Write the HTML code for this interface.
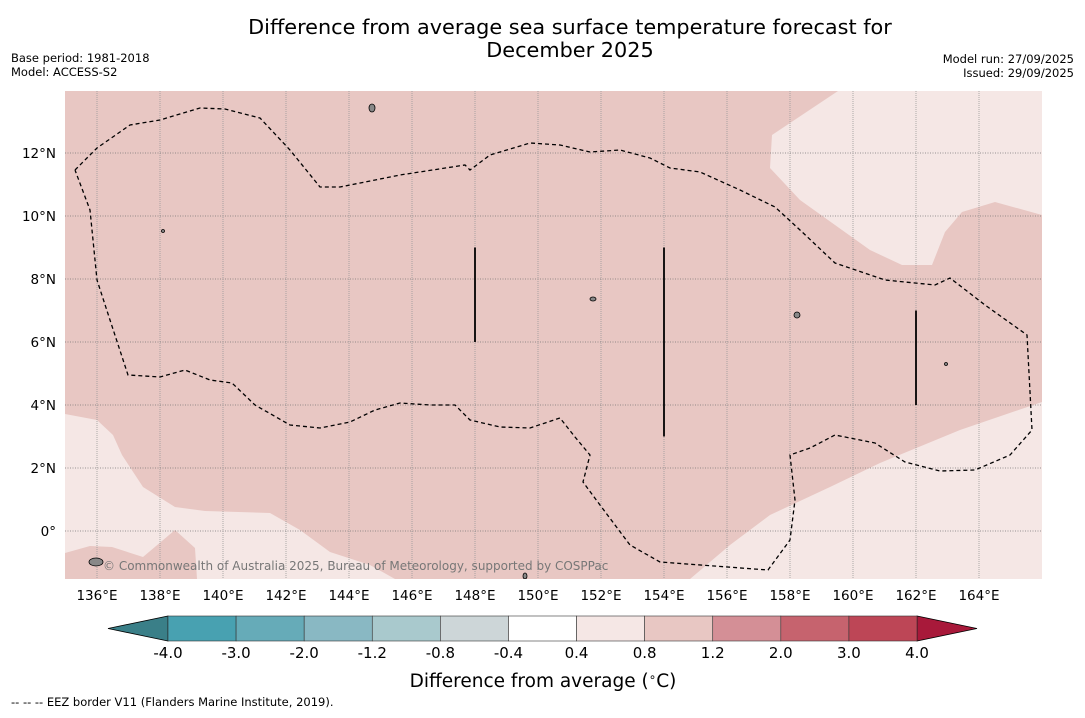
<!DOCTYPE html>
<html><head><meta charset="utf-8"><style>
body{margin:0;background:#fff;font-family:"Liberation Sans","DejaVu Sans",sans-serif;}
svg text{font-family:"DejaVu Sans","Liberation Sans",sans-serif;}
</style></head><body>
<svg id="c" width="1085" height="713" xmlns="http://www.w3.org/2000/svg">
<text x="570" y="34" font-size="20.8" text-anchor="middle">Difference from average sea surface temperature forecast for</text>
<text x="570" y="57" font-size="20.8" text-anchor="middle">December 2025</text>
<text x="11" y="62" font-size="11.5">Base period: 1981-2018</text>
<text x="11" y="76" font-size="11.5">Model: ACCESS-S2</text>
<text x="1074" y="63" font-size="11.5" text-anchor="end">Model run: 27/09/2025</text>
<text x="1074" y="77" font-size="11.5" text-anchor="end">Issued: 29/09/2025</text>
<g id="map"></g>
<g id="cbar"></g>
<text x="543" y="687" font-size="18.5" text-anchor="middle">Difference from average (<tspan font-size="12" dy="-6">∘</tspan><tspan dy="6">C)</tspan></text>
<text x="11" y="706" font-size="11.5">--  --  -- EEZ border V11 (Flanders Marine Institute, 2019).</text>
</svg>
<script>
const lonTicks=[136,138,140,142,144,146,148,150,152,154,156,158,160,162,164];
const latTicks=[0,2,4,6,8,10,12];
const px=(x,y)=>[135+(x-65.5)/31.5,12-(y-153)/31.5];
const lightNE=[[838,91],[772,135],[770,168],[800,200],[835,225],[870,250],[902,265],[932,265],[945,232],[962,212],[995,202],[1042,215],[1042,91]].map(p=>px(...p));
const lightSW=[[65,414],[97,420],[113,435],[122,455],[143,487],[175,507],[205,511],[270,513],[300,530],[330,552],[370,565],[395,579],[65,579]].map(p=>px(...p));
const darkSW=[[65,553],[90,546],[112,547],[143,557],[175,530],[195,548],[197,579],[65,579]].map(p=>px(...p));
const lightSE=[[690,579],[730,545],[770,515],[830,487],[880,463],[960,430],[1042,402],[1042,579]].map(p=>px(...p));
const eez=[[75,170],[97,148],[130,125],[160,120],[200,108],[225,109],[260,118],[290,150],[320,187],[340,187],[400,175],[465,165],[470,170],[490,155],[530,143],[560,145],[590,152],[620,150],[650,158],[670,168],[700,172],[740,190],[775,207],[800,230],[835,263],[885,280],[935,285],[950,278],[985,305],[1027,335],[1032,430],[1010,455],[975,470],[940,471],[905,462],[875,443],[835,435],[810,448],[790,455],[795,500],[790,540],[768,570],[660,562],[630,545],[600,505],[583,482],[590,455],[575,437],[560,418],[530,428],[500,427],[470,420],[455,405],[430,405],[400,403],[375,410],[350,422],[320,428],[290,425],[255,405],[232,383],[210,380],[185,370],[160,377],[128,375],[110,320],[97,280],[90,210],[75,170]].map(p=>px(...p));
const boundLines=[[148,9,6],[154,9,3],[162,7,4]];
const cbLevels=["-4.0","-3.0","-2.0","-1.2","-0.8","-0.4","0.4","0.8","1.2","2.0","3.0","4.0"];
const cbColors=["#48a1b1","#66abb8","#89b8c3","#a9c9cd","#cdd6d8","#ffffff","#f5e7e5","#e8c7c3","#d48f96","#c6636e","#bd4656"];
const NS="http://www.w3.org/2000/svg";
const X0=65,X1=1042,Y0=91,Y1=579;
const xs=lon=>65.5+(lon-135)*31.5, ys=lat=>153-(lat-12)*31.5;
function mk(t,a,parent){const e=document.createElementNS(NS,t);for(const k in a)e.setAttribute(k,a[k]);parent.appendChild(e);return e;}
const map=document.getElementById('map');
const clip=mk('clipPath',{id:'cl'},map);mk('rect',{x:X0,y:Y0,width:X1-X0,height:Y1-Y0},clip);
const g=mk('g',{'clip-path':'url(#cl)'},map);
let bg=mk('rect',{x:X0,y:Y0,width:X1-X0,height:Y1-Y0,fill:'#e8c7c3'},g);

const poly=(pts)=>pts.map(p=>xs(p[0]).toFixed(1)+','+ys(p[1]).toFixed(1)).join(' ');
[[lightNE,'#f5e7e5','anomaly-0.4-0.8-ne'],[lightSW,'#f5e7e5','anomaly-0.4-0.8-sw'],[darkSW,'#e8c7c3','anomaly-0.8-1.2-sw'],[lightSE,'#f5e7e5','anomaly-0.4-0.8-se']].forEach(([p,c,n])=>{
 const e=mk('polygon',{points:poly(p),fill:c},g);
 
 
});
lonTicks.forEach(l=>{
 const e=mk('line',{x1:xs(l),x2:xs(l),y1:Y0,y2:Y1,stroke:'#999',"stroke-width":0.8,"stroke-dasharray":"1,1"},g);
 
 
 const t=mk('text',{x:xs(l),y:600,"font-size":13.5,"text-anchor":"middle"},map);t.textContent=l+'°E';
 
 
});
latTicks.forEach(l=>{
 const e=mk('line',{x1:X0,x2:X1,y1:ys(l),y2:ys(l),stroke:'#777',"stroke-width":0.8,"stroke-dasharray":"1,1.5"},g);
 
 
 const t=mk('text',{x:56,y:ys(l)+5,"font-size":13.5,"text-anchor":"end"},map);t.textContent=l===0?'0°':l+'°N';
 
 
});
const ez=mk('polyline',{points:poly(eez),fill:'none',stroke:'#000',"stroke-width":1.3,"stroke-dasharray":"4,3"},g);


boundLines.forEach(b=>{
 const e=mk('line',{x1:xs(b[0]),x2:xs(b[0]),y1:ys(b[1]),y2:ys(b[2]),stroke:'#000',"stroke-width":1.8},g);
 
 
});
[[372,108,3,4],[96,562,7,4],[797,315,3,3],[593,299,3,2],[163,231,1.5,1.5],[525,576,2,3],[946,364,1.5,1.5]].forEach(s=>{
 const e=mk('ellipse',{cx:s[0],cy:s[1],rx:s[2],ry:s[3],fill:'#888',stroke:'#000',"stroke-width":0.8},g);
 
 
});
const cr=mk('text',{x:103,y:570,"font-size":12,fill:'#777'},g);cr.textContent='© Commonwealth of Australia 2025, Bureau of Meteorology, supported by COSPPac';


const cb=document.getElementById('cbar');
const cx0=168,cx1=917,cy0=616,cy1=641,sw=(cx1-cx0)/(cbLevels.length-1);
const lt=mk('polygon',{points:`108,628.5 ${cx0},${cy0} ${cx0},${cy1}`,fill:'#3a7f88',stroke:'#000',"stroke-width":0.8},cb);

const rt=mk('polygon',{points:`977,628.5 ${cx1},${cy0} ${cx1},${cy1}`,fill:'#a8193a',stroke:'#000',"stroke-width":0.8},cb);

cbColors.forEach((c,i)=>{
 const e=mk('rect',{x:cx0+i*sw,y:cy0,width:sw,height:cy1-cy0,fill:c,stroke:'#333',"stroke-width":0.6},cb);
 
 
});
cbLevels.forEach((v,i)=>{
 const t=mk('text',{x:cx0+i*sw,y:658,"font-size":15,"text-anchor":"middle"},cb);t.textContent=v;
 
 
});
</script>
</body></html>
